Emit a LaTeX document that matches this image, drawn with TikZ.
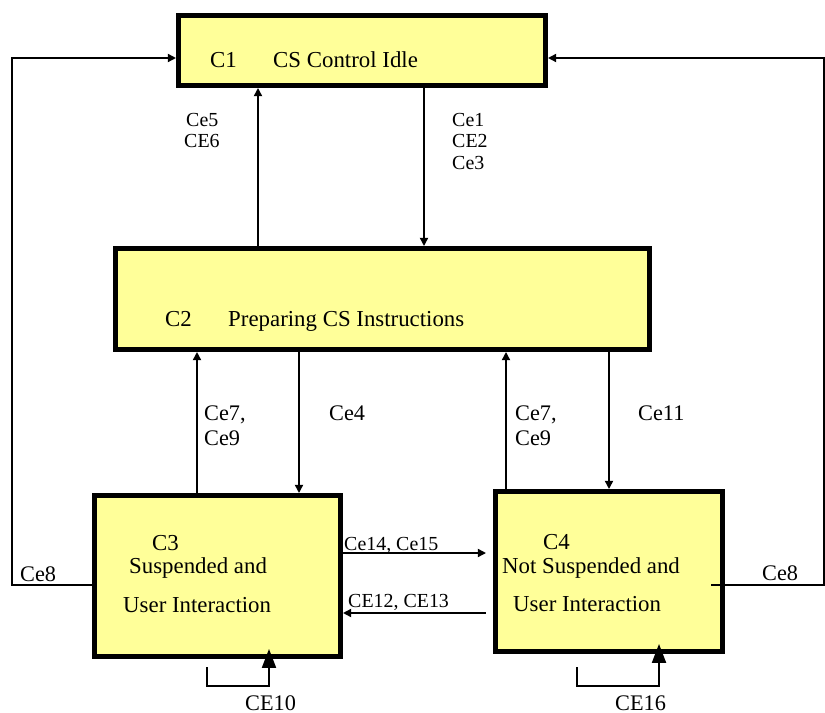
\documentclass[tikz,border=0pt]{standalone}
\usepackage{fontspec}
\setmainfont{Liberation Serif}
\usepackage{xcolor}
\usetikzlibrary{arrows.meta, calc}
\definecolor{stateyellow}{RGB}{255,255,153}

\begin{document}
\begin{tikzpicture}[x=0.03cm, y=-0.03cm,
	state/.style={draw=black, fill=stateyellow, line width=4.3pt, inner sep=0pt},
	conn/.style={line width=1.3pt, -{Triangle[length=7pt, width=7pt]}},
	selfconn/.style={line width=1.3pt, -{Triangle[length=16pt, width=12pt]}},
	txt/.style={anchor=base west, inner sep=0pt, font=\fontsize{19.5}{23}\selectfont},
	lbl/.style={anchor=base west, inner sep=0pt, font=\fontsize{19}{22}\selectfont},
	slbl/.style={anchor=base west, inner sep=0pt, font=\fontsize{17}{20}\selectfont}]

	\useasboundingbox (0,0) rectangle (825,713);

	% states
	\node[state, minimum width=11.01cm, minimum height=2.1cm] (c1) at (362,50.5) {};
	\node[state, minimum width=16.02cm, minimum height=3.03cm] (c2) at (382.5,299) {};
	\node[state, minimum width=7.38cm, minimum height=4.83cm] (c3) at (217.5,576) {};
	\node[state, minimum width=6.81cm, minimum height=4.8cm] (c4) at (609,571.5) {};

	\node[txt] (c1id) at (210,68) {C1};
	\node[txt] (c1name) at (273,68) {CS Control Idle};
	\node[txt] (c2id) at (165,326) {C2};
	\node[txt] (c2name) at (228,326) {Preparing CS Instructions};
	\node[txt] (c3id) at (152,550) {C3};
	\node[txt] (c3name) at (129,573) {Suspended and};
	\node[txt] (c3nameb) at (123,612) {User Interaction};
	\node[txt] (c4id) at (543,549) {C4};
	\node[txt] (c4name) at (502,573) {Not Suspended and};
	\node[txt] (c4nameb) at (513,611) {User Interaction};

	% columns and rows of the connectors
	\coordinate (up1) at (258,0);
	\coordinate (dn1) at (424,0);
	\coordinate (up3) at (197,0);
	\coordinate (dn3) at (299,0);
	\coordinate (up4) at (506,0);
	\coordinate (dn4) at (609,0);
	\coordinate (row34) at (0,553);
	\coordinate (row43) at (0,613);
	\coordinate (top8) at (0,58);
	\coordinate (low8) at (0,585);
	\coordinate (loop3) at (207,667);
	\coordinate (tip3) at (269,0);
	\coordinate (loop4) at (577,667);
	\coordinate (tip4) at (659,0);

	\draw[conn] (c2.north -| up1) -- (c1.south -| up1);
	\draw[conn] (c1.south -| dn1) -- (c2.north -| dn1);
	\draw[conn] (c3.north -| up3) -- (c2.south -| up3);
	\draw[conn] (c2.south -| dn3) -- (c3.north -| dn3);
	\draw[conn] (c4.north -| up4) -- (c2.south -| up4);
	\draw[conn] (c2.south -| dn4) -- (c4.north -| dn4);

	\draw[conn, shorten >=0.21cm] (c3.east |- row34) -- (c4.west |- row34);
	\draw[conn, shorten <=0.21cm] (c4.west |- row43) -- (c3.east |- row43);

	\draw[conn] (c3.west |- low8) -- ++(-80,0) |- (c1.west |- top8);
	\draw[conn, shorten <=-0.42cm] (c4.east |- low8) -- ++(99,0) |- (c1.east |- top8);

	\draw[selfconn, shorten >=-0.3cm] (loop3) -- ++(0,19) -| (c3.south -| tip3);
	\draw[selfconn, shorten >=-0.3cm] (loop4) -- ++(0,19) -| (c4.south -| tip4);

	% events
	\node[slbl] (ce5) at (186,127) {Ce5};
	\node[slbl] (ce6) at (184,148) {CE6};
	\node[slbl] (ce1) at (452,127) {Ce1};
	\node[slbl] (ce2) at (452,148) {CE2};
	\node[slbl] (ce3) at (452,170) {Ce3};
	\node[lbl] (ce7a) at (204,420) {Ce7,};
	\node[lbl] (ce9a) at (204,445) {Ce9};
	\node[lbl] (ce4) at (329,420) {Ce4};
	\node[lbl] (ce7b) at (515,420) {Ce7,};
	\node[lbl] (ce9b) at (515,445) {Ce9};
	\node[lbl] (ce11) at (638,420) {Ce11};
	\node[slbl] (ce14) at (344,550) {Ce14, Ce15};
	\node[slbl] (ce12) at (348,607) {CE12, CE13};
	\node[lbl] (ce8a) at (20,581) {Ce8};
	\node[lbl] (ce8b) at (762,580) {Ce8};
	\node[lbl] (ce10) at (245,710) {CE10};
	\node[lbl] (ce16) at (615,710) {CE16};

\end{tikzpicture}
\end{document}
